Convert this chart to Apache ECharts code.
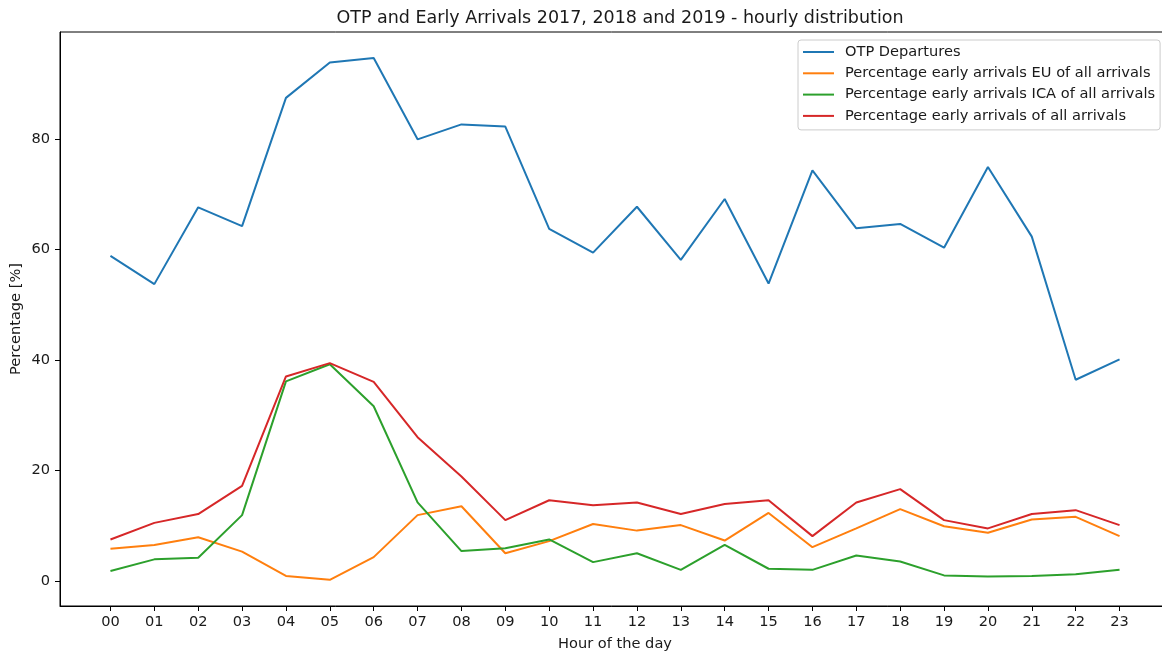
<!DOCTYPE html>
<html>
<head>
<meta charset="utf-8">
<title>OTP and Early Arrivals</title>
<script src="https://cdn.jsdelivr.net/npm/echarts@6/dist/echarts.min.js"></script>
<style>
  html, body { margin: 0; padding: 0; background: #ffffff; }
  #chart { width: 1162px; height: 655px; }
</style>
</head>
<body>
<div id="chart"></div>
<script>
// Hours of the day (x positions) and their tick labels
const hours = [0, 1, 2, 3, 4, 5, 6, 7, 8, 9, 10, 11, 12, 13, 14, 15, 16, 17, 18, 19, 20, 21, 22, 23];
const hourLabels = ['00', '01', '02', '03', '04', '05', '06', '07', '08', '09', '10', '11',
                    '12', '13', '14', '15', '16', '17', '18', '19', '20', '21', '22', '23'];

// Series values in percent
const otpDepartures = [58.8, 53.7, 67.6, 64.2, 87.4, 93.8, 94.6, 79.9, 82.6, 82.2, 63.7, 59.4,
                       67.7, 58.1, 69.1, 53.8, 74.3, 63.8, 64.6, 60.3, 74.9, 62.3, 36.4, 40.1];
const earlyEU = [5.8, 6.5, 7.9, 5.3, 0.9, 0.2, 4.3, 11.9, 13.5, 5.0, 7.2, 10.3,
                 9.1, 10.1, 7.3, 12.3, 6.1, 9.5, 13.0, 9.9, 8.7, 11.1, 11.6, 8.1];
const earlyICA = [1.8, 3.9, 4.2, 11.9, 36.1, 39.2, 31.6, 14.2, 5.4, 5.9, 7.5, 3.4,
                  5.0, 2.0, 6.5, 2.2, 2.0, 4.6, 3.5, 1.0, 0.8, 0.9, 1.2, 2.0];
const earlyAll = [7.5, 10.5, 12.1, 17.2, 37.0, 39.4, 36.0, 26.0, 18.9, 11.0, 14.6, 13.7,
                  14.2, 12.1, 13.9, 14.6, 8.1, 14.2, 16.6, 11.0, 9.5, 12.1, 12.8, 10.1];

// Y tick values
const yTicks = [0, 20, 40, 60, 80];

const seriesNames = [
  'OTP Departures',
  'Percentage early arrivals EU of all arrivals',
  'Percentage early arrivals ICA of all arrivals',
  'Percentage early arrivals of all arrivals'
];
const seriesValues = [otpDepartures, earlyEU, earlyICA, earlyAll];
const colors = ['#1f77b4', '#ff7f0e', '#2ca02c', '#d62728'];

const font = 'DejaVu Sans, sans-serif';
const textColor = '#1a1a1a';
const fs = 14.6;

const chart = echarts.init(document.getElementById('chart'), null, { renderer: 'canvas' });

chart.setOption({
  animation: false,
  backgroundColor: '#ffffff',
  title: {
    text: 'OTP and Early Arrivals 2017, 2018 and 2019 - hourly distribution',
    left: 615,
    textAlign: 'center',
    top: 4,
    textStyle: { fontFamily: font, fontSize: 17.5, fontWeight: 'normal', color: textColor }
  },
  legend: {
    orient: 'vertical',
    left: 798,
    top: 40,
    padding: [4, 5, 6, 5],
    icon: 'rect',
    itemWidth: 31,
    itemHeight: 2,
    itemGap: 5.3,
    backgroundColor: 'rgba(255,255,255,0.8)',
    borderColor: '#cccccc',
    borderWidth: 1,
    borderRadius: 3,
    textStyle: { fontFamily: font, fontSize: fs, lineHeight: 16, color: textColor, padding: [0, 0, 0, 6] },
    data: seriesNames
  },
  grid: {
    left: 60,
    top: 32,
    width: 1110,
    bottom: 49,
    containLabel: false,
    outerBoundsMode: 'none',
    show: true,
    borderColor: '#000000',
    borderWidth: 1,
    backgroundColor: 'transparent'
  },
  xAxis: {
    type: 'value',
    min: -1.15,
    max: 24.15,
    name: 'Hour of the day',
    nameLocation: 'middle',
    nameGap: 31,
    nameMoveOverlap: false,
    nameTextStyle: { fontFamily: font, fontSize: fs, color: textColor },
    axisLine: { show: true, onZero: false, lineStyle: { color: '#000000', width: 1 } },
    axisTick: { show: true, inside: false, length: 5, customValues: hours, lineStyle: { color: '#000000' } },
    axisLabel: {
      customValues: hours,
      margin: 9,
      fontFamily: font,
      fontSize: fs,
      color: textColor,
      formatter: function (v) { return hourLabels[Math.round(v)]; }
    },
    splitLine: { show: false }
  },
  yAxis: {
    type: 'value',
    min: -4.54,
    max: 99.32,
    name: 'Percentage [%]',
    nameLocation: 'middle',
    nameGap: 36,
    nameMoveOverlap: false,
    nameTextStyle: { fontFamily: font, fontSize: fs, color: textColor },
    axisLine: { show: true, onZero: false, lineStyle: { color: '#000000', width: 1 } },
    axisTick: { show: true, inside: false, length: 5, customValues: yTicks, lineStyle: { color: '#000000' } },
    axisLabel: {
      customValues: yTicks,
      margin: 10,
      fontFamily: font,
      fontSize: fs,
      color: textColor
    },
    splitLine: { show: false }
  },
  series: seriesNames.map(function (name, i) {
    return {
      name: name,
      type: 'line',
      symbol: 'none',
      color: colors[i],
      lineStyle: { width: 2, color: colors[i] },
      data: hours.map(function (h, j) { return [h, seriesValues[i][j]]; })
    };
  })
});
</script>
</body>
</html>
